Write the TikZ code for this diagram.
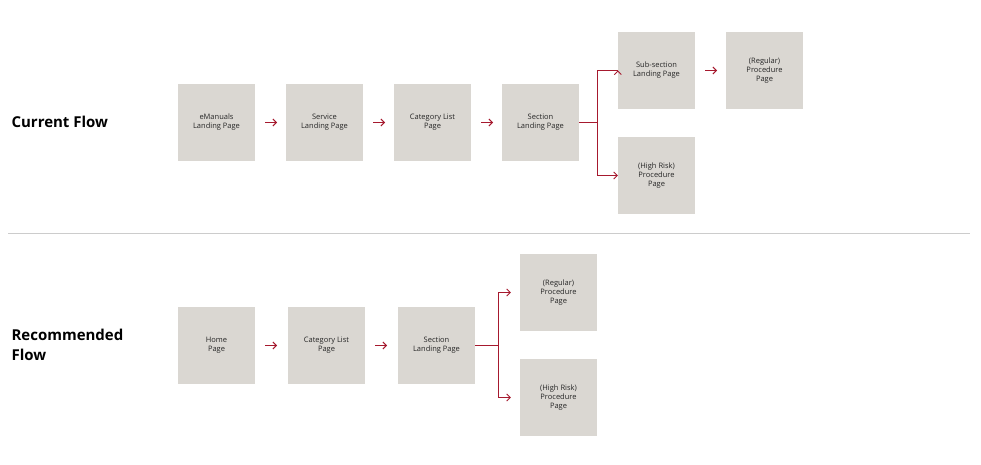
\documentclass[tikz,border=0pt]{standalone}
\usepackage{fontspec}
\setmainfont{Open Sans}
\usetikzlibrary{arrows.meta}
\definecolor{boxc}{HTML}{DAD7D2}
\definecolor{arr}{HTML}{A6192E}
\begin{document}
\begin{tikzpicture}[x=1pt,y=-1pt,
  pg/.style={fill=boxc,minimum width=77pt,minimum height=77pt,inner sep=1pt,align=center,font=\fontsize{7.5}{9}\selectfont,text=black!85},
  ar/.style={draw=arr,line width=0.9pt,-{Straight Barb[length=3.5pt,width=7pt]}},
  br/.style={draw=arr,line width=0.9pt},
  ttl/.style={anchor=west,align=left,font=\fontsize{15}{20}\selectfont\bfseries}]
\useasboundingbox (0,0) rectangle (981,465);
\node[ttl] (t1) at (8,122) {Current Flow};
\node[ttl] (t2) at (8,345) {Recommended\\Flow};
\node[pg] (a1) at (216.5,122.5) {eManuals\\Landing Page};
\node[pg] (a2) at (324.5,122.5) {Service\\Landing Page};
\node[pg] (a3) at (432.5,122.5) {Category List\\Page};
\node[pg] (a4) at (540.5,122.5) {Section\\Landing Page};
\node[pg] (a5) at (656.5,70.5) {Sub-section\\Landing Page};
\node[pg] (a6) at (764.5,70.5) {(Regular)\\Procedure\\Page};
\node[pg] (a7) at (656.5,175.5) {(High Risk)\\Procedure\\Page};
\draw[ar] (265,122.5) -- (277,122.5);
\draw[ar] (373,122.5) -- (385,122.5);
\draw[ar] (481,122.5) -- (493,122.5);
\draw[ar] (705,70.5) -- (717,70.5);
\coordinate (j1) at (597,122.5);
\draw[br] (a4.east) -- (j1);
\draw[ar] (j1) |- (a5.west) ++(0,0);
\draw[ar] (597,122.5) |- (a7.west);
\node[pg] (b1) at (216.5,345.5) {Home\\Page};
\node[pg] (b2) at (326.5,345.5) {Category List\\Page};
\node[pg] (b3) at (436.5,345.5) {Section\\Landing Page};
\node[pg] (b4) at (558.5,292.5) {(Regular)\\Procedure\\Page};
\node[pg] (b5) at (558.5,397.5) {(High Risk)\\Procedure\\Page};
\draw[ar] (265,345.5) -- (277,345.5);
\draw[ar] (375,345.5) -- (387,345.5);
\coordinate (j2) at (498,345.5);
\draw[br] (b3.east) -- (j2);
\draw[ar] (j2) |- ([xshift=-9pt]b4.west);
\draw[ar] (j2) |- ([xshift=-9pt]b5.west);
\draw[black!20,line width=0.8pt] (8,233) -- (970,233);
\end{tikzpicture}
\end{document}
